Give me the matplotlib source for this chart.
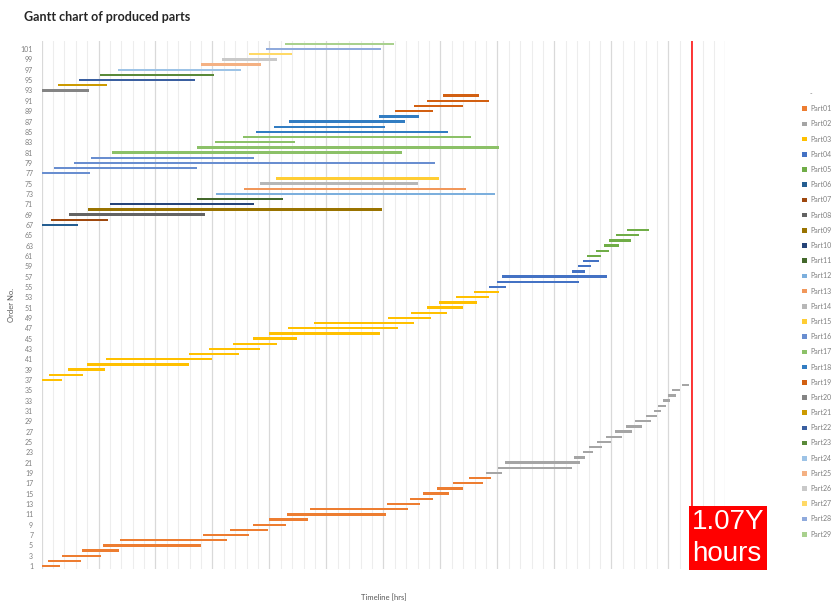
import matplotlib.pyplot as plt
import numpy as np
from matplotlib.patches import Patch

plt.rcParams['font.family'] = ['Lato', 'DejaVu Sans']

# order numbers (y axis) and their start / finish on the timeline
orders = np.arange(1, 103)
start = [0.00, 0.54, 1.80, 3.58, 5.42, 6.86, 14.14, 16.51, 18.53, 19.93,
         21.57, 23.53, 30.31, 32.33, 33.45, 34.70, 36.13, 37.51, 39.00, 40.03,
         40.70, 46.70, 47.49, 48.01, 48.77, 49.50, 50.32, 51.26, 52.05, 53.01,
         53.72, 54.12, 54.53, 54.94, 55.35, 56.17, 0.00, 0.63, 2.30, 3.99,
         5.63, 12.92, 14.67, 16.83, 18.53, 19.96, 21.63, 23.94, 30.43, 32.39,
         33.80, 34.90, 36.37, 37.95, 39.26, 39.97, 40.41, 46.57, 47.05, 47.51,
         47.89, 48.65, 49.33, 49.82, 50.41, 51.40, 0.00, 0.81, 2.39, 4.05,
         5.98, 13.62, 15.31, 17.79, 19.20, 20.58, 0.00, 1.10, 2.85, 4.37,
         6.21, 13.62, 15.22, 17.68, 18.79, 20.40, 21.72, 29.61, 31.02, 32.68,
         33.85, 35.20, 0.00, 1.47, 3.29, 5.13, 6.74, 13.99, 15.86, 18.21,
         19.67, 21.37]
finish = [1.65, 3.44, 5.25, 6.80, 13.97, 16.25, 18.23, 19.87, 21.45, 23.38,
          30.20, 32.13, 33.21, 34.38, 35.73, 37.01, 38.76, 39.47, 40.38, 46.57,
          47.25, 47.71, 48.42, 49.18, 49.94, 50.91, 51.79, 52.72, 53.48, 53.98,
          54.38, 54.80, 55.15, 55.65, 56.02, 56.79, 1.83, 3.64, 5.57, 12.92,
          14.99, 17.33, 19.17, 20.64, 22.44, 29.70, 31.31, 32.66, 34.15, 35.55,
          36.96, 38.24, 39.24, 40.14, 40.78, 47.19, 49.65, 47.66, 48.19, 48.94,
          49.09, 49.79, 50.70, 51.70, 52.45, 53.30, 3.20, 5.81, 14.37, 29.85,
          18.67, 21.22, 39.77, 37.25, 33.06, 34.90, 4.26, 13.62, 34.50, 18.67,
          31.66, 40.14, 22.22, 37.71, 35.67, 30.14, 31.89, 33.12, 34.35, 36.96,
          39.29, 38.41, 4.19, 5.72, 13.44, 15.11, 17.48, 19.23, 20.64, 21.95,
          29.76, 30.96]
# part number of every order
order_part = ([1] * 18 + [2] * 18 + [3] * 18 + [4] * 6 + [5] * 6
              + list(range(6, 16)) + [16] * 4 + [17] * 4 + [18] * 4 + [19] * 4
              + list(range(20, 30)))

part_names = [f'Part{i:02d}' for i in range(1, 30)]
part_colors = ['#ED7D31', '#A5A5A5', '#FFC000', '#4472C4', '#70AD47', '#255E91',
               '#9E480E', '#636363', '#997300', '#264478', '#43682B', '#7CAFDD',
               '#F1975A', '#B7B7B7', '#FFCD33', '#698ED0', '#8CC168', '#327DC2',
               '#D26012', '#848484', '#CC9A00', '#3A5FA0', '#5A8A39', '#9DC3E6',
               '#F4B183', '#C9C9C9', '#FFD966', '#8FAADC', '#A9D18E']

marker_x = 57.06
marker_top = 12.0
marker_text = '1.07Y\nhours'

fig = plt.figure(figsize=(8.39, 6.06), dpi=100)
ax = fig.add_axes([0.0495, 0.0617, 0.815, 0.870])

durations = np.subtract(finish, start)
ax.barh(orders, durations, left=start, height=0.45,
        color=[part_colors[p - 1] for p in order_part], zorder=2)

ax.set_xlim(0, 60)
ax.set_ylim(0.5, 102.5)
ax.set_xticks(np.arange(0, 61, 5))
ax.set_xticks(np.arange(0, 61, 1), minor=True)
ax.grid(which='major', axis='x', color='#d9d9d9', lw=0.9, zorder=0)
ax.grid(which='minor', axis='x', color='#ededed', lw=0.8, zorder=0)
ax.set_axisbelow(True)
for s in ax.spines.values():
    s.set_visible(False)
ax.tick_params(axis='x', which='both', length=0, labelbottom=False)
ax.set_yticks(np.arange(1, 102, 2))
ax.tick_params(axis='y', length=0, pad=6, labelsize=5, labelcolor='#7f7f7f')

ax.set_xlabel('Timeline [hrs]', fontsize=5.5, color='#595959', labelpad=18)
ax.set_ylabel('Order No.', fontsize=5.5, color='#595959', labelpad=4)

# red marker line with its label box
ax.vlines(marker_x, marker_top, 102.5, color='red', lw=1.1, zorder=3)
ax.text(marker_x, marker_top, marker_text, ha='left', va='top', fontsize=20,
        color='white', family='Liberation Sans', linespacing=1.3,
        bbox=dict(boxstyle='square,pad=0.1', fc='red', ec='none'),
        clip_on=False, zorder=4)

handles = [Patch(fc='none', ec='none')] + [Patch(fc=c, ec='none') for c in part_colors]
labels = ['-'] + part_names
fig.legend(handles, labels, loc='upper left', bbox_to_anchor=(802 / 839, 1 - 90 / 606),
           frameon=False, fontsize=5, labelcolor='#7f7f7f', handlelength=0.65,
           handleheight=0.65, handletextpad=0.5, labelspacing=1.18,
           borderpad=0, borderaxespad=0)

fig.text(24 / 839, 1 - 17 / 606, 'Gantt chart of produced parts', fontsize=9,
         fontweight='bold', va='center', ha='left', color='#262626')

fig.savefig('out.png', dpi=100)
